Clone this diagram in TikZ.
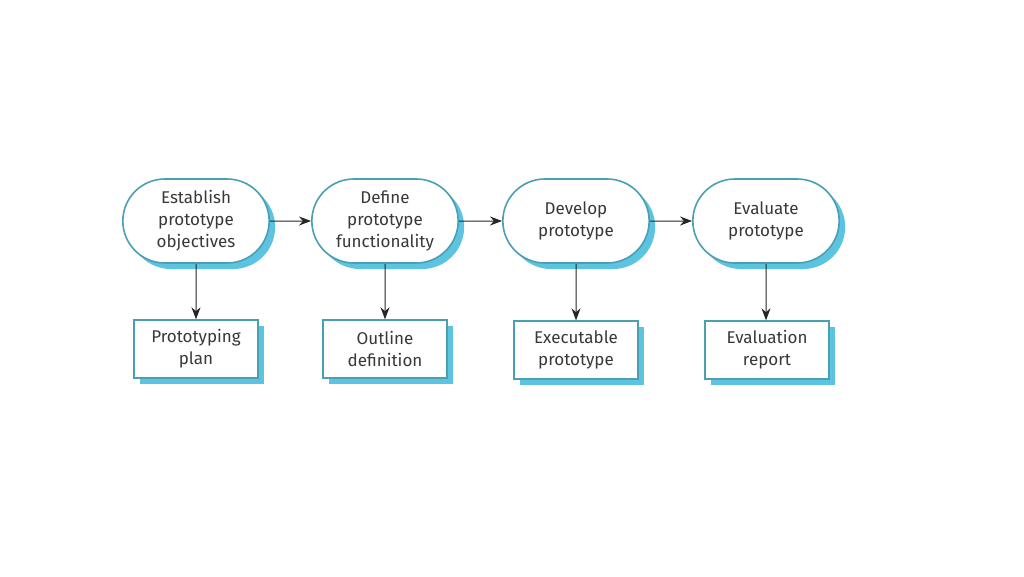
\documentclass[tikz,border=0pt]{standalone}
\usepackage{fontspec}
\setmainfont{Fira Sans}
\usetikzlibrary{shapes.misc,shadows,arrows.meta}
\definecolor{edgeblue}{HTML}{4A9FB3}
\definecolor{shadowblue}{HTML}{5CC3E0}
\definecolor{txt}{HTML}{383838}
\tikzset{
  stage/.style={rounded rectangle, draw=edgeblue, line width=1.6pt, fill=white,
    minimum width=153pt, minimum height=84pt, align=center, text=txt,
    font=\fontsize{17}{22}\selectfont,
    drop shadow={shadow xshift=6pt, shadow yshift=-6pt, fill=shadowblue, opacity=1}},
  product/.style={rectangle, draw=edgeblue, line width=1.4pt, fill=white,
    minimum width=124pt, minimum height=58pt, align=center, text=txt,
    font=\fontsize{17}{22}\selectfont,
    drop shadow={shadow xshift=6pt, shadow yshift=-6pt, fill=shadowblue, opacity=1}},
  flow/.style={-{Stealth[length=12pt,width=9pt]}, line width=1pt, draw=black!85}
}
\begin{document}
\begin{tikzpicture}[x=1pt,y=-1pt]
\useasboundingbox[fill=white] (0,0) rectangle (1024,576);
\node[stage] (s1) at (196,221) {Establish\\prototype\\objectives};
\node[stage] (s2) at (385,221) {Define\\prototype\\functionality};
\node[stage] (s3) at (576,221) {Develop\\prototype};
\node[stage] (s4) at (766,221) {Evaluate\\prototype};
\node[product] (p1) at (196,349) {Prototyping\\plan};
\node[product] (p2) at (385,349) {Outline\\definition};
\node[product] (p3) at (576,350) {Executable\\prototype};
\node[product] (p4) at (767,350) {Evaluation\\report};
\draw[flow] (s1) -- (s2);
\draw[flow] (s2) -- (s3);
\draw[flow] (s3) -- (s4);
\draw[flow] (s1) -- (s1 |- p1.north);
\draw[flow] (s2) -- (s2 |- p2.north);
\draw[flow] (s3) -- (s3 |- p3.north);
\draw[flow] (s4) -- (s4 |- p4.north);
\end{tikzpicture}
\end{document}
